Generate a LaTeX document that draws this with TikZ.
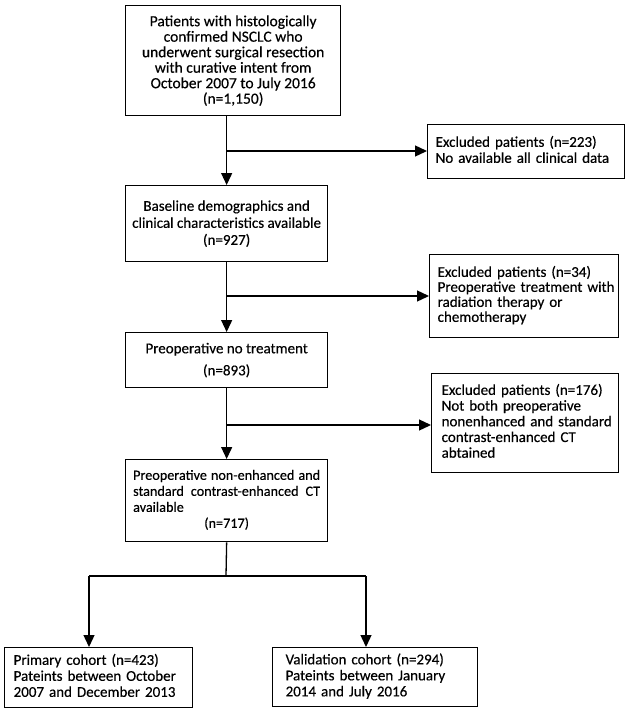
\documentclass[tikz,border=0pt]{standalone}
\usepackage{fontspec}
\setmainfont{Carlito}[FakeBold=0.35]
\usetikzlibrary{arrows.meta}
\newcommand{\lines}[1]{\begin{tabular}{@{}l@{}}#1\end{tabular}}
\newcommand{\jline}[1]{\hbox to 187pt{\spaceskip=.12em plus 1fil\relax #1}}
\begin{document}
\begin{tikzpicture}[x=1pt,y=-1pt,
  box/.style={draw, line width=1.3pt, inner sep=0pt, anchor=north west,
    font=\fontsize{15}{16}\selectfont},
  cbox/.style={box, align=center},
  ebox/.style={box, align=left},
  arr/.style={line width=1.3pt, -{Triangle[length=12pt,width=11pt]}},
  ln/.style={line width=1.3pt}]
\useasboundingbox (0,0) rectangle (630,709);

\node[cbox, minimum width=215pt, minimum height=110pt,
  font=\fontsize{15.5}{15.5}\selectfont] (b1) at (125,5)
  {Patients with histologically\\confirmed NSCLC who\\underwent surgical resection\\with curative intent from\\October 2007 to July 2016\\(n=1,150)};

\node[ebox, minimum height=54pt, inner xsep=8pt, text width=181pt] (e1) at (427,124)
  {\lines{Excluded patients (n=223)\\No available all clinical data}};

\node[cbox, minimum width=202pt, minimum height=76pt,
  font=\fontsize{15}{17}\selectfont] (b2) at (125,185)
  {Baseline demographics and\\clinical characteristics available\\(n=927)};

\node[ebox, minimum height=83pt, inner xsep=8pt, text width=173pt,
  font=\fontsize{15}{15}\selectfont] (e2) at (429,254)
  {\lines{Excluded patients (n=34)\\Preoperative treatment with\\radiation therapy or\\chemotherapy}};

\node[cbox, minimum width=202pt, minimum height=55pt,
  font=\fontsize{15}{22}\selectfont] (b3) at (125,332)
  {Preoperative no treatment\\(n=893)};

\node[ebox, minimum height=99pt, inner xsep=10pt, text width=167pt,
  font=\fontsize{15}{15.7}\selectfont] (e3) at (431,373)
  {\lines{Excluded patients (n=176)\\Not both preoperative\\nonenhanced and standard\\contrast-enhanced CT\\abtained}};

\node[ebox, minimum height=82pt, inner xsep=7.5pt, text width=187pt,
  font=\fontsize{14.2}{16}\selectfont] (b4) at (125,459)
  {\lines{\jline{Preoperative non-enhanced and}\\
   \jline{standard contrast-enhanced CT}\\
   available\\
   \hbox to 187pt{\hfil(n=717)\hfil}}};

\node[ebox, minimum height=60pt, inner xsep=9pt, text width=170pt] (b5) at (4,647)
  {\lines{Primary cohort (n=423)\\Pateints between October\\2007 and December 2013}};

\node[ebox, minimum height=59pt, inner xsep=13pt, text width=179pt] (b6) at (272,647)
  {\lines{Validation cohort (n=294)\\Pateints between January\\2014 and July 2016}};

% spine and junctions
\coordinate (j1) at (226,151);
\coordinate (j2) at (226,296);
\coordinate (j3) at (226,425);
\coordinate (s)  at (226,576);
\coordinate (sl) at (89,576);
\coordinate (sr) at (366,576);

\draw[arr] (b1.south -| b2.north) -- (b2.north);
\draw[arr] (j1) -- (j1 -| e1.west);
\draw[arr] (b2.south) -- (b3.north);
\draw[arr] (j2) -- (j2 -| e2.west);
\draw[arr] (b3.south) -- (b4.north);
\draw[arr] (j3) -- (j3 -| e3.west);
\draw[ln] (b4.south) -- (s);
\draw[ln] (sl) -- (sr);
\draw[arr] (sl) -- (sl |- b5.north);
\draw[arr] (sr) -- (sr |- b6.north);
\end{tikzpicture}
\end{document}
